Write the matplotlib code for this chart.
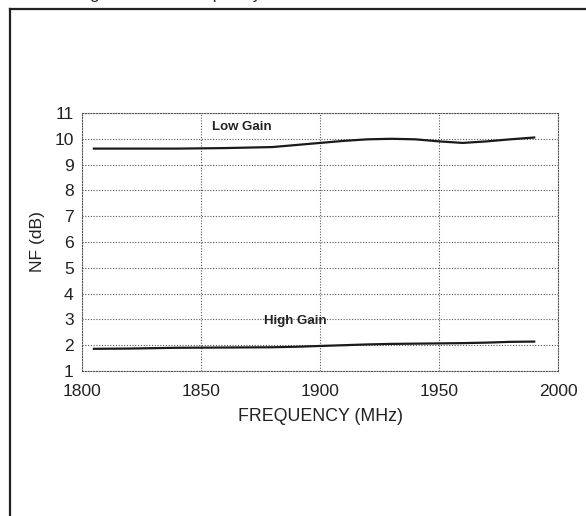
import matplotlib.pyplot as plt
from matplotlib.lines import Line2D

plt.rcParams['font.family'] = ['Liberation Sans', 'DejaVu Sans']

# ---------------------------------------------------------
# Data
# ---------------------------------------------------------
freq = [1805, 1820, 1840, 1860, 1880, 1890, 1900, 1910,
        1920, 1930, 1940, 1950, 1960, 1970, 1980, 1990]
nf_low_gain = [9.62, 9.62, 9.62, 9.64, 9.68, 9.76, 9.84, 9.92,
               9.98, 10.0, 9.98, 9.90, 9.84, 9.90, 9.98, 10.05]
nf_high_gain = [1.86, 1.87, 1.90, 1.91, 1.92, 1.94, 1.97, 2.00,
                2.03, 2.05, 2.06, 2.07, 2.08, 2.10, 2.13, 2.14]

x_ticks = [1800, 1850, 1900, 1950, 2000]
y_ticks = list(range(1, 12))

W, H = 586, 516

# ---------------------------------------------------------
# Figure + cropped frame of the datasheet page
# ---------------------------------------------------------
fig = plt.figure(figsize=(W / 100, H / 100), dpi=100)

fx = 10 / W
fy = 1 - 8.5 / H
fig.add_artist(Line2D([fx, fx], [0, fy], transform=fig.transFigure,
                      color="#222222", linewidth=1.6))
fig.add_artist(Line2D([fx, 1], [fy, fy], transform=fig.transFigure,
                      color="#222222", linewidth=1.6))

# caption cut off at the top of the crop (only descenders show)
fig.text(29 / W, 1 + 1 / H, "Noise Figure versus Frequency",
         fontsize=12, va="baseline", ha="left", color="#222222")

ax = fig.add_axes([82 / W, 1 - 371 / H, 476 / W, 258 / H])

ax.plot(freq, nf_low_gain, color="#1a1a1a", linewidth=1.6)
ax.plot(freq, nf_high_gain, color="#1a1a1a", linewidth=1.6)

ax.text(1867, 10.45, "Low Gain", fontsize=9.5, fontweight="bold",
        ha="center", va="center", color="#222222")
ax.text(1889.5, 2.93, "High Gain", fontsize=9.5, fontweight="bold",
        ha="center", va="center", color="#222222")

ax.set_xlim(1800, 2000)
ax.set_ylim(1, 11)
ax.set_xticks(x_ticks)
ax.set_yticks(y_ticks)
ax.tick_params(length=0, labelsize=12.6, colors="#222222")
ax.tick_params(axis="x", pad=9)
ax.tick_params(axis="y", pad=6)

ax.grid(True, linestyle=(0, (1, 1.5)), color="#555555", linewidth=0.8)
for s in ax.spines.values():
    s.set_linestyle((0, (1, 1.5)))
    s.set_color("#555555")
    s.set_linewidth(0.8)

ax.set_xlabel("FREQUENCY (MHz)", fontsize=12.8, color="#222222", labelpad=7)
ax.set_ylabel("NF (dB)", fontsize=12.6, color="#222222", labelpad=7)

plt.savefig("out.png", dpi=100)
plt.close()
